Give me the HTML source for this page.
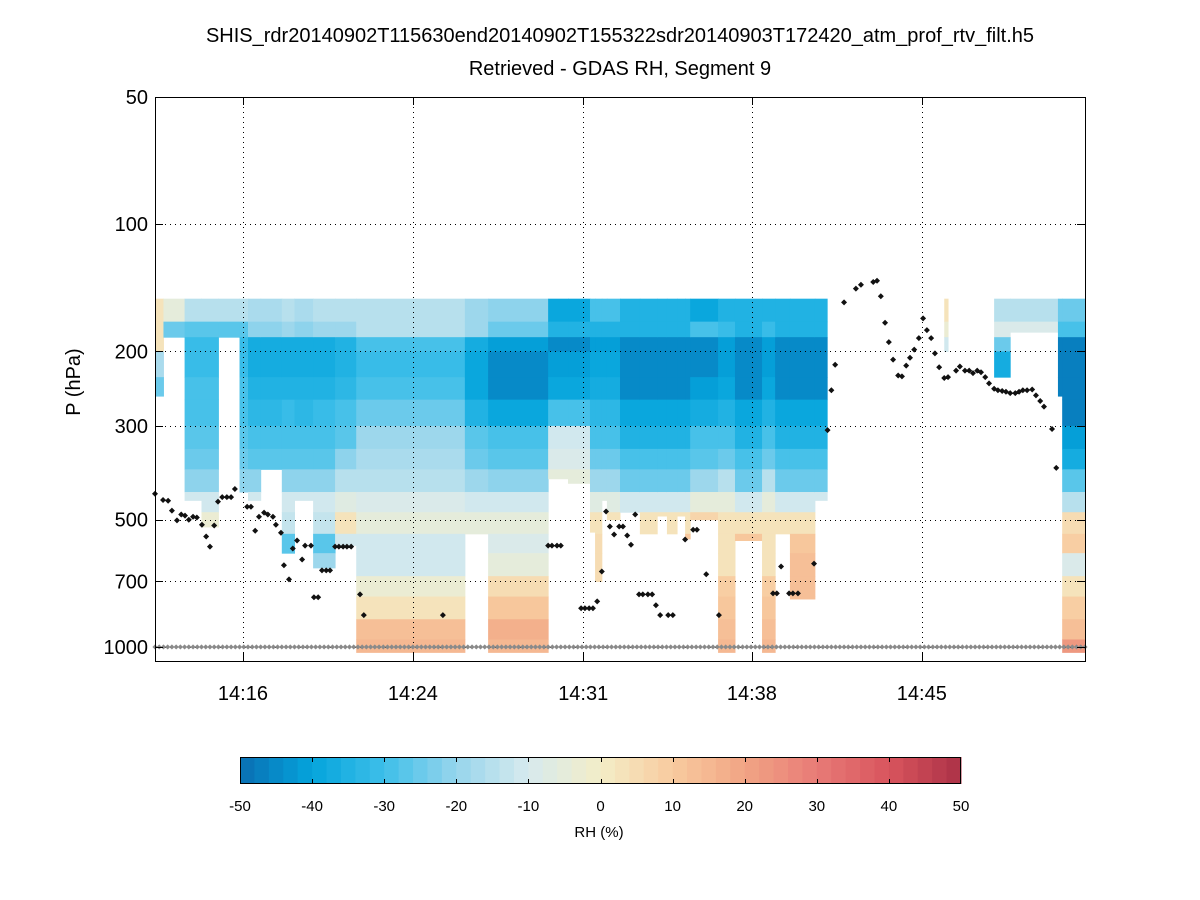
<!DOCTYPE html>
<html><head><meta charset="utf-8"><style>
body{margin:0;background:#fff;}
svg{display:block;font-family:"Liberation Sans",sans-serif;}
</style></head><body>
<svg id="chart" width="1200" height="900" viewBox="0 0 1200 900" xmlns="http://www.w3.org/2000/svg">
<rect width="1200" height="900" fill="#fff"/>
<text x="620" y="42" font-size="20" text-anchor="middle">SHIS_rdr20140902T115630end20140902T155322sdr20140903T172420_atm_prof_rtv_filt.h5</text>
<text x="620" y="75" font-size="20" text-anchor="middle">Retrieved - GDAS RH, Segment 9</text>
<text x="80" y="382" font-size="20" text-anchor="middle" transform="rotate(-90 80 382)">P (hPa)</text>
<g id="heat"></g>
<g id="grid"></g>
<g id="marks"></g>
<rect x="155.5" y="97.5" width="930" height="564" fill="none" stroke="#000" stroke-width="1"/>
<g id="axes"></g>
<g id="cbar"></g>
<text x="599" y="837" font-size="15" text-anchor="middle">RH (%)</text>
</svg>
<script>
// ---- data ----
const levelBounds = [150,170,185,200,230,260,300,340,380,430,480,540,600,680,760,860,960,1040];
const profiles = [
 [2,3,3,-18,-25,-25,-20,-20,-20,-20,-20,-20,-20,-20,-20,-20,-20],
 [-5,-25,-25,-25,-25,-25,-25,-25,-25,-25,-25,-25,-25,-25,-25,-25,-25],
 [-15,-28,-32,-32,-30,-30,-27,-25,-22,-12,-3,2,3,3,0,0,0],
 [-18,-22,-38,-38,-36,-33,-30,-28,-22,-12,0,3,3,3,3,3,3],
 [-15,-20,-38,-38,-35,-32,-30,-28,-22,-12,-14,-28,-20,-18,-15,-15,-15],
 [-15,-20,-35,-35,-33,-30,-28,-22,-15,-8,2,-12,-15,-15,-15,-15,-15],
 [-15,-15,-30,-32,-30,-25,-20,-18,-15,-10,-5,-12,-12,-3,3,12,15],
 [-20,-20,-38,-40,-40,-35,-28,-25,-20,-12,-5,-5,-5,-5,-5,-5,-5],
 [-22,-25,-42,-45,-45,-40,-30,-27,-22,-12,-5,-10,-5,5,10,17,15],
 [-40,-35,-45,-42,-40,-30,-12,-10,-5,-5,-5,-5,-5,-5,-5,-5,-5],
 [-30,-35,-42,-40,-38,-33,-30,-25,-20,-8,2,5,5,5,5,5,5],
 [-35,-35,-45,-45,-45,-40,-35,-30,-25,-12,3,10,12,12,12,12,12],
 [-40,-30,-45,-45,-42,-38,-30,-28,-20,-5,6,10,10,10,10,10,10],
 [-35,-32,-42,-42,-40,-35,-30,-25,-15,-5,3,3,2,8,10,12,15],
 [2,-3,-12,-12,-12,-12,-12,-12,-12,-12,-12,-12,-12,-12,-12,-12,-12],
 [-15,-10,-25,-38,-45,-45,-45,-45,-45,-45,-45,-45,-45,-45,-45,-45,-45],
 [-25,-30,-48,-48,-48,-48,-42,-38,-28,-15,5,8,-10,2,8,12,22]
];
const segStart  = [0,2,7,11,15,20,22,25,30,33,37.4,42.6,47.6,73.3,78.8,93,97.7,102.9,104.1,105.7,106.9,110,114.7,118.8,121.1,123.5,125.4,126.6,133.2,137.2,143.6,146.7,150.2,156.1,186.7,198.5,202.3,213.6,214.6];
const segEnd    = [2,7,11,15,20,22,25,30,33,37.4,42.6,47.6,73.3,78.8,93,97.7,102.9,104.1,105.7,106.9,110,114.7,118.8,121.1,123.5,125.4,126.6,133.2,137.2,143.6,146.7,150.2,156.1,159,187.6,202.3,213.6,214.6,220];
const segBottom = [255,185,450,520,185,430,450,380,600,450,650,575,1030,540,1030,400,410,535,700,450,500,480,540,490,540,490,555,500,1030,560,1030,540,770,450,200,230,180,255,1030];
const segProfile= [0,1,2,2,2,2,3,3,4,3,4,5,6,7,8,9,9,10,10,10,10,11,11,11,11,11,11,12,13,11,13,11,11,11,14,15,15,16,16];
const dotScan = [0,1.9,3.1,4.0,5.2,6.2,7.1,8.0,9.0,9.9,11.1,12.1,13.0,14.0,14.9,15.9,17.0,18.0,18.9,21.8,22.7,23.7,24.6,25.8,26.7,27.9,28.6,29.8,30.5,31.7,32.6,33.6,34.8,35.5,36.9,37.6,38.6,39.5,40.5,41.4,42.6,43.5,44.5,45.4,46.4,48.5,49.4,68.1,93.0,93.9,95.1,96.0,100.8,101.7,102.7,103.6,104.6,105.7,106.7,107.6,108.6,109.8,110.7,111.7,112.6,113.6,114.5,115.4,116.6,117.6,118.5,119.5,121.4,122.5,125.4,127.3,128.2,130.4,133.4,146.2,147.1,148.1,150.0,150.9,152.1,155.9,159.1,160.0,160.9,163.0,165.8,167.0,169.9,170.8,171.7,172.7,173.6,174.6,175.8,176.7,177.7,178.6,179.6,180.7,181.7,182.6,183.6,184.5,185.5,186.7,187.6,189.5,190.4,191.6,192.6,193.5,194.5,195.4,196.4,197.3,198.5,199.4,200.4,201.3,202.3,203.5,204.4,205.3,206.3,207.5,208.4,209.4,210.3,212.2,213.2];
const dotP = [434,449,451,476,502,486,489,500,492,494,514,548,579,516,453,442,442,442,423,466,466,531,492,481,486,492,514,537,641,692,585,560,621,576,576,763,763,659,659,659,579,579,579,579,579,751,841,841,576,576,576,576,810,810,810,810,780,663,478,519,542,519,519,545,573,486,751,751,751,751,797,841,841,841,557,528,528,673,841,747,747,645,747,747,747,635,307,247,215,153,142,139,137,136,148,171,190,209,228,229,216,207,198,186,167,178,186,202,218,231,230,222,217,222,222,225,222,224,230,238,245,247,248,249,251,251,249,247,247,246,254,262,270,305,377];
const surfaceP = 1000;
const yTicks = [50,100,200,300,500,700,1000];
const yTickLabels = ["50","100","200","300","500","700","1000"];
const xTicks = [20.8,61.0,101.3,141.2,181.4];
const xTickLabels = ["14:16","14:24","14:31","14:38","14:45"];
const cbTicks = [-50,-40,-30,-20,-10,0,10,20,30,40,50];
const cmapVals = [-50,-40,-30,-20,-10,0,10,20,30,40,50];
const cmapCols = ["#0a6fb3","#04a4dc","#3ebfe9","#97d5ec","#d7eaee","#f3edc7","#f8cb9f","#f1a484","#e87b77","#d8545d","#ab3147"];

// ---- scales ----
const X0=155, X1=1085, Y0=97, Y1=661;
const xs = s => X0 + s*(X1-X0)/220;
const ys = p => Y0 + 422.7*Math.log10(p/50);
const NS="http://www.w3.org/2000/svg";
function el(tag, attrs, parent){const e=document.createElementNS(NS,tag);for(const k in attrs)e.setAttribute(k,attrs[k]);parent.appendChild(e);return e;}
function hex(h){return [1,3,5].map(i=>parseInt(h.substr(i,2),16));}
function color(v){
  v=Math.max(-50,Math.min(49.99,v));
  v=Math.floor(v/2)*2+1;
  const i=Math.min(9,Math.floor((v+50)/10));
  const t=(v-cmapVals[i])/10;
  const a=hex(cmapCols[i]), b=hex(cmapCols[i+1]);
  return "rgb("+a.map((c,k)=>Math.round(c+(b[k]-c)*t)).join(",")+")";
}
// heatmap
const heat=document.getElementById('heat');
for(let s=0;s<segStart.length;s++){
  const prof=profiles[segProfile[s]];
  for(let l=0;l<prof.length;l++){
    const top=levelBounds[l]; if(top>=segBottom[s]) break;
    const bot=Math.min(levelBounds[l+1],segBottom[s]);
    const r=el('rect',{x:xs(segStart[s]),y:ys(top),width:xs(segEnd[s])-xs(segStart[s])+0.5,height:ys(bot)-ys(top)+0.5,fill:color(prof[l])},heat);
    
    
  }
}
// grid
const grid=document.getElementById('grid');
yTicks.forEach(p=>{if(p===50)return;const y=Math.round(ys(p))+0.5;
  const g=el('line',{x1:X0,x2:X1,y1:y,y2:y,stroke:"#000","stroke-width":1,"stroke-dasharray":"1 4"},grid);
  
  });
xTicks.forEach(s=>{const x=Math.round(xs(s))+0.5;
  const g=el('line',{x1:x,x2:x,y1:Y0,y2:Y1,stroke:"#000","stroke-width":1,"stroke-dasharray":"1 4"},grid);
  
  });
// markers
const marks=document.getElementById('marks');
function diamond(x,y,r,fill){return `M${x-r},${y}L${x},${y-r}L${x+r},${y}L${x},${y+r}Z`;}
let dg="";
for(let s=0;s<=220;s++){dg+=diamond(xs(s),ys(surfaceP),2.6);}
const gp=el('path',{d:dg,fill:"#8a8a8a"},marks);


let db="";
for(let i=0;i<dotScan.length;i++){db+=diamond(xs(dotScan[i]),ys(dotP[i]),3);}
const bp=el('path',{d:db,fill:"#111"},marks);


// axes
const axes=document.getElementById('axes');
yTicks.forEach((p,i)=>{const y=Math.round(ys(p))+0.5;
  el('line',{x1:X0,x2:X0+8,y1:y,y2:y,stroke:"#000"},axes);
  el('line',{x1:X1-8,x2:X1,y1:y,y2:y,stroke:"#000"},axes);
  const t=el('text',{x:148,y:ys(p)+7,"font-size":20,"text-anchor":"end"},axes);t.textContent=yTickLabels[i];
  
  });
xTicks.forEach((s,i)=>{const x=Math.round(xs(s))+0.5;
  el('line',{x1:x,x2:x,y1:Y1-8,y2:Y1,stroke:"#000"},axes);
  el('line',{x1:x,x2:x,y1:Y0,y2:Y0+8,stroke:"#000"},axes);
  const t=el('text',{x:xs(s),y:700,"font-size":20,"text-anchor":"middle"},axes);t.textContent=xTickLabels[i];
  
  });
// colorbar
const cb=document.getElementById('cbar');
const CB0=240, CB1=961, CBy=757, CBh=27;
const cbx=v=>CB0+(v+50)*(CB1-CB0)/100;
for(let v=-50;v<50;v+=2){
  const r=el('rect',{x:cbx(v),y:CBy,width:(CB1-CB0)/50+0.5,height:CBh,fill:color(v+1)},cb);
  
  
}
el('rect',{x:CB0+0.5,y:CBy+0.5,width:CB1-CB0-1,height:CBh-1,fill:"none",stroke:"#000"},cb);
cbTicks.forEach(v=>{const x=Math.round(cbx(v))+0.5;
  if(v>-50&&v<50){el('line',{x1:x,x2:x,y1:CBy,y2:CBy+5,stroke:"#000"},cb);el('line',{x1:x,x2:x,y1:CBy+CBh-5,y2:CBy+CBh,stroke:"#000"},cb);}
  const t=el('text',{x:cbx(v),y:811,"font-size":15,"text-anchor":"middle"},cb);t.textContent=String(v);
  
  });
</script>
</body></html>
